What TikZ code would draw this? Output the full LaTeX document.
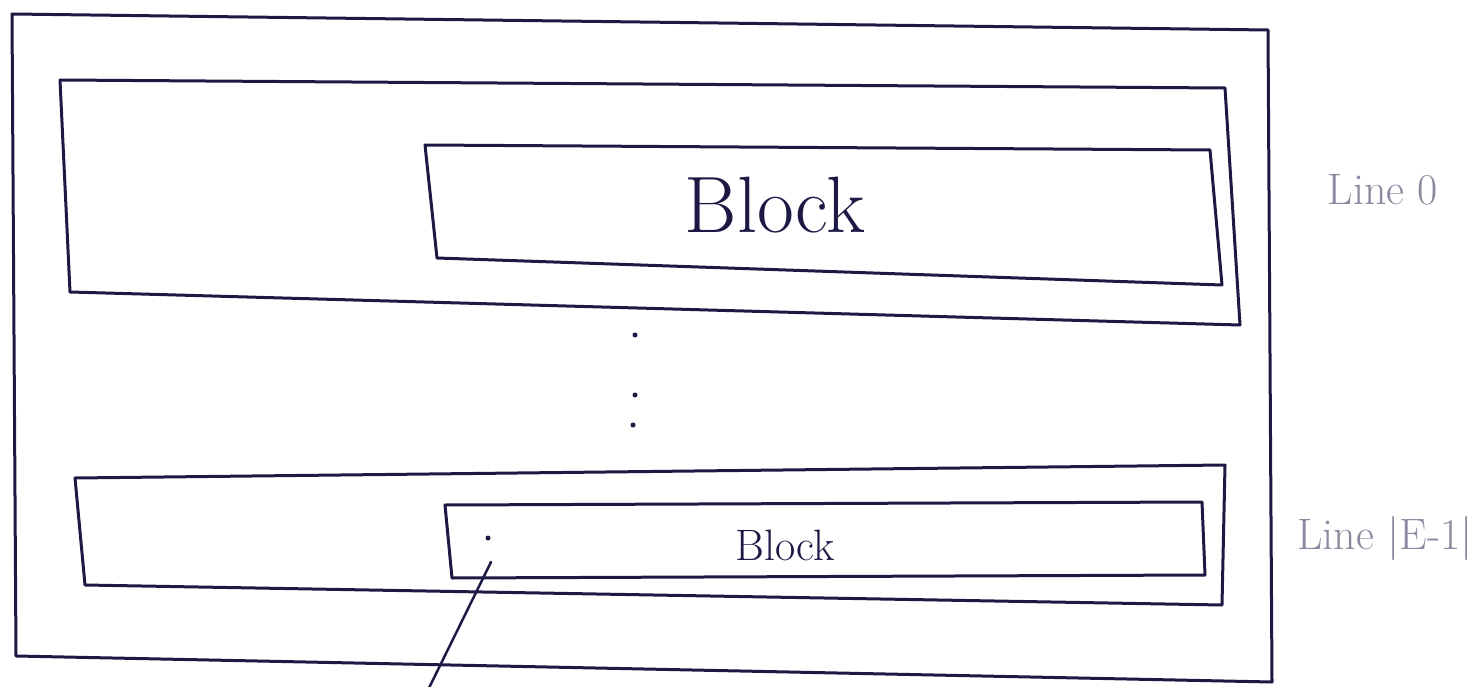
\documentclass[tikz,border=0pt]{standalone}
\usepackage{fontspec}
\begin{document}
\begin{tikzpicture}[x=1pt,y=-1pt,
  ink/.style={draw=inkcol,line width=3pt,line join=round,line cap=round},
  lab/.style={text=labcol,font=\fontsize{44}{50}\selectfont},
  dotmark/.style={circle,fill=inkcol,inner sep=0pt,minimum size=5pt}]
\definecolor{inkcol}{HTML}{1C1A45}
\definecolor{labcol}{HTML}{8A8AA0}
\useasboundingbox (0,0) rectangle (1472,687);
% outer frame
\draw[ink] (12,14) -- (1268,30) -- (1272,682) -- (16,656) -- cycle;
% line 0
\draw[ink] (60,80) -- (1225,88) -- (1240,325) -- (70,292) -- cycle;
\draw[ink] (425,145) -- (1210,150) -- (1222,285) -- (437,258) -- cycle;
\node[font=\fontsize{80}{90}\selectfont,text=inkcol] (b0) at (775,205) {Block};
% line E-1
\draw[ink] (75,478) -- (1225,465) -- (1222,605) -- (85,585) -- cycle;
\draw[ink] (445,505) -- (1202,502) -- (1205,575) -- (452,578) -- cycle;
\node[font=\fontsize{44}{50}\selectfont,text=inkcol] (b1) at (785,545) {Block};
% labels
\node[lab] (l0) at (1383,190) {Line 0};
\node[lab] (l1) at (1385,538) {Line |E-1|};
% vertical dots
\node[dotmark] (d1) at (635,335) {};
\node[dotmark] (d2) at (635,395) {};
\node[dotmark] (d3) at (633,425) {};
\node[dotmark] (d4) at (488,538) {};
% pointer
\coordinate (p0) at (428,690);
\coordinate (p1) at (491,562);
\draw[ink,line width=2.5pt] (p0) -- (p1);
\end{tikzpicture}
\end{document}
